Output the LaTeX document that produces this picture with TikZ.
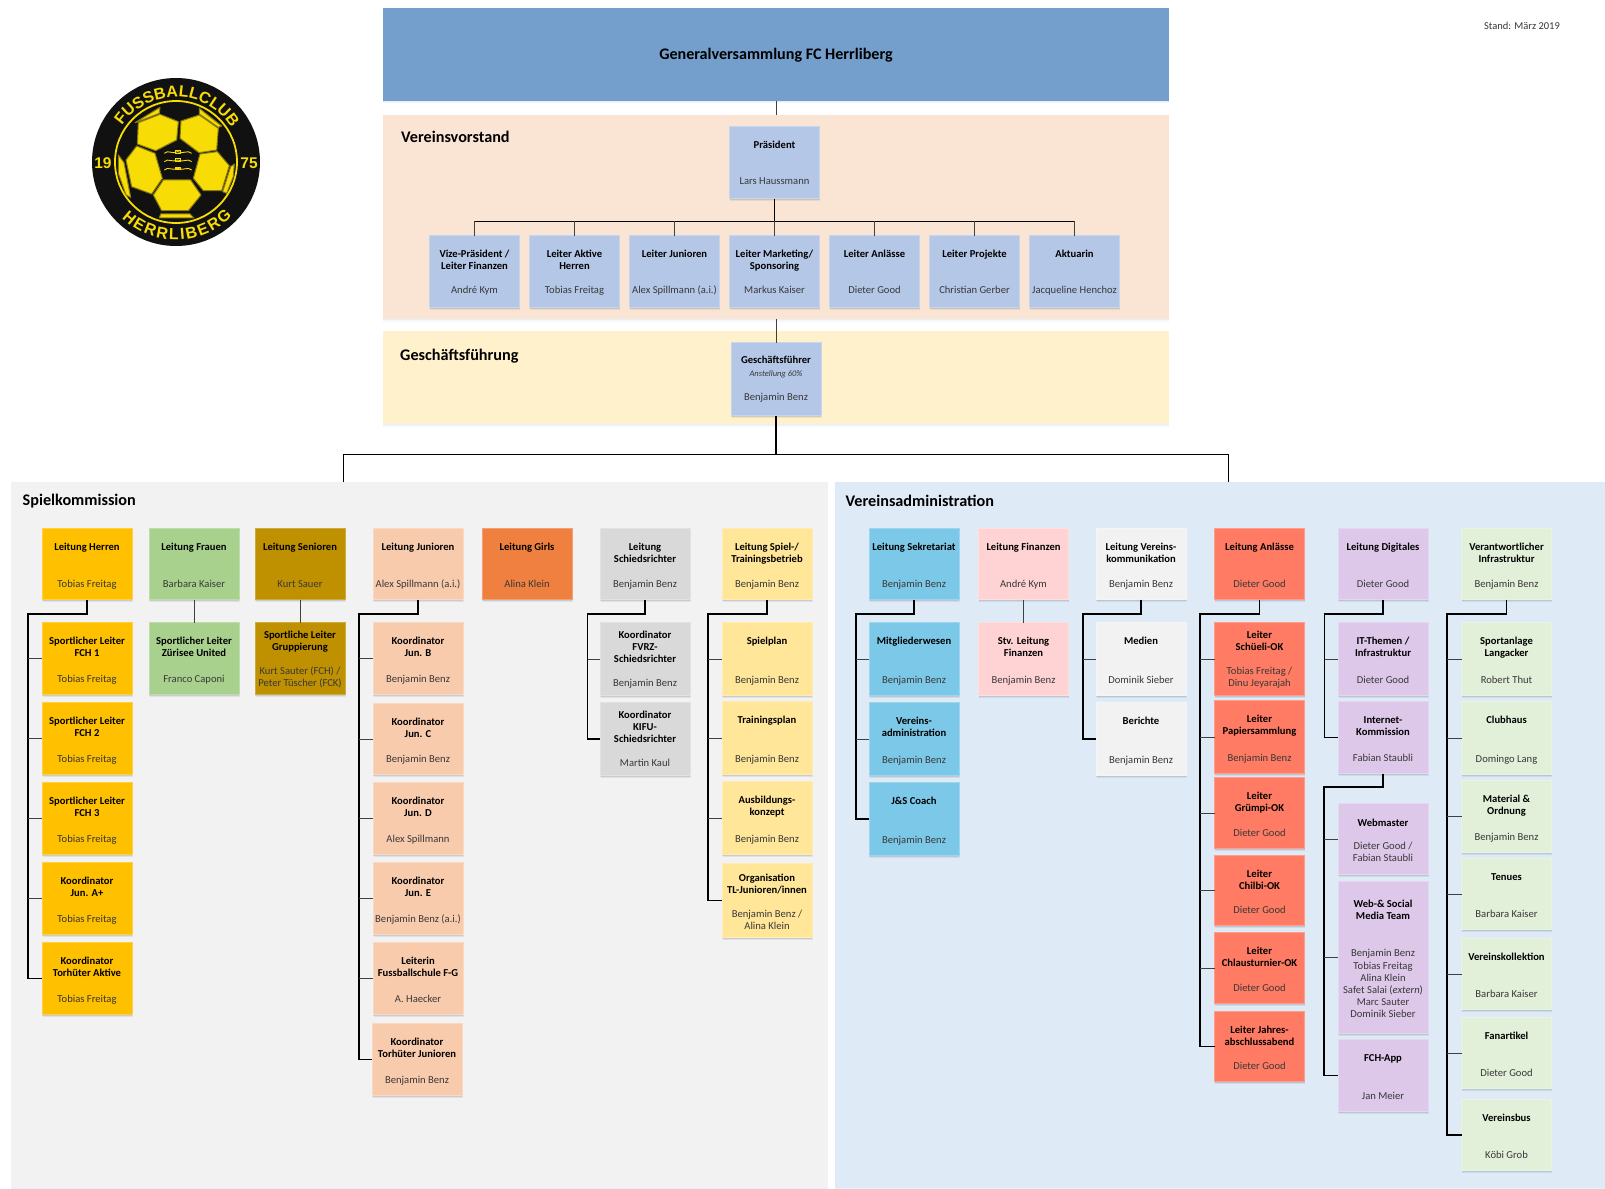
\documentclass[tikz,border=0pt]{standalone}
\usepackage{fontspec}
\setmainfont{Carlito}
\newfontfamily\logofont{Liberation Sans}
\usetikzlibrary{shadows,decorations.text,calc}
\definecolor{cTop}{HTML}{749FCC}\definecolor{cVor}{HTML}{FAE5D5}\definecolor{cGes}{HTML}{FFF1CC}
\definecolor{cBlue}{HTML}{B4C7E7}\definecolor{cGrey}{HTML}{F2F2F2}\definecolor{cAdm}{HTML}{DEEAF6}
\definecolor{cHer}{HTML}{FFC000}\definecolor{cFra}{HTML}{A9D18E}\definecolor{cSen}{HTML}{BF9000}
\definecolor{cJun}{HTML}{F8CBAD}\definecolor{cGir}{HTML}{F08040}\definecolor{cSch}{HTML}{D9D9D9}
\definecolor{cSpi}{HTML}{FFE699}\definecolor{cSek}{HTML}{7CC8E8}\definecolor{cFin}{HTML}{FFD3D3}
\definecolor{cKom}{HTML}{F2F2F2}\definecolor{cAnl}{HTML}{FF7B63}\definecolor{cDig}{HTML}{DDC8EA}
\definecolor{cInf}{HTML}{E2EFD9}\definecolor{cName}{HTML}{383838}
\definecolor{cLogoY}{HTML}{F7DD05}\definecolor{cLogoB}{HTML}{111111}\definecolor{cLogoL}{HTML}{8A7A10}
\tikzset{
  bandbox/.style={rectangle,inner sep=0pt,outer sep=0pt,draw=none,
    drop shadow={shadow xshift=0pt,shadow yshift=-2.5pt,opacity=.08,fill=cTop},
    drop shadow={shadow xshift=0pt,shadow yshift=-1.2pt,opacity=.10,fill=cTop}},
  orgbox/.style={rectangle,inner sep=0pt,outer sep=0pt,draw=#1!75!white,fill=#1,line width=.8pt,
    font=\fontsize{10.6}{12.2}\selectfont,
    drop shadow={shadow xshift=.9pt,shadow yshift=-2.6pt,opacity=.09,fill=black!60!cTop},
    drop shadow={shadow xshift=.4pt,shadow yshift=-1.3pt,opacity=.13,fill=black!60!cTop}},
  sectionlabel/.style={anchor=west,inner sep=0pt,font=\fontsize{16.2}{18}\selectfont\bfseries},
  thick link/.style={draw=black,line width=1.4pt},
  thin link/.style={draw=black!75,line width=1pt},
  ballface/.style={fill=cLogoY,draw=cLogoL,line width=1pt,line join=round},
}
\newcommand{\band}[6]{%
  \pgfmathsetmacro\bw{#4-#2}\pgfmathsetmacro\bh{#5-#3}%
  \pgfmathsetmacro\bx{(#2+#4)/2}\pgfmathsetmacro\by{(#3+#5)/2}%
  \node[bandbox,fill=#6,minimum width=\bw pt,minimum height=\bh pt] (#1) at (\bx,\by) {};}
% \ob[opts]{style colour}{id}{cx}{top}{bottom}{title}{name}
\newcommand{\ob}[8][]{\begingroup\def\tp{13.5}\def\bp{8.5}#1%
  \pgfmathsetmacro\bh{#6-#5-1}\pgfmathsetmacro\by{(#5+#6)/2}%
  \node[orgbox=#2] (#3) at (#4,\by) {\parbox[c][\bh pt][t]{90pt}{\centering
    \vspace*{\tp pt}{\bfseries\strut #7\strut\par}\vfill
    {\color{cName}\strut #8\strut\par}\vspace*{\bp pt}}};\endgroup}
% \sidetree{parent}{trunk x}{turn y}{last child}{other children}
\newcommand{\sidetree}[5]{%
  \coordinate (turn#1) at (#2,#3);
  \draw[thick link] (#1.south) |- (turn#1) |- (#4.west);
  \foreach \c in {#5}{\draw[thin link] (turn#1 |- \c.west) -- (\c.west);}}
\begin{document}
\begin{tikzpicture}[x=1pt,y=-1pt]
\useasboundingbox (0,0) rectangle (1605,1188);
\fill[white] (0,0) rectangle (1605,1188);
% bands
\band{gv}{383}{8}{1169}{101}{cTop}
\band{vv}{383}{115}{1169}{319}{cVor}
\band{gs}{383}{331}{1169}{424}{cGes}
\band{sp}{11}{482}{828}{1188}{cGrey}
\band{ad}{835}{482}{1605}{1188}{cAdm}
\node[anchor=center,inner sep=0pt,font=\fontsize{16.1}{18}\selectfont\bfseries] (gvt) at ([yshift=-.5pt]gv.center) {Generalversammlung FC Herrliberg};
\node[sectionlabel] (vvt) at (401,137) {Vereinsvorstand};
\node[sectionlabel] (gst) at (400,356.5) {Geschäftsführung};
\node[sectionlabel] (spt) at (22.5,501) {Spielkommission};
\node[sectionlabel] (adt) at (845.5,501) {Vereinsadministration};
\node[inner sep=0pt,font=\fontsize{10.5}{12}\selectfont,text=cName] (stand) at (1522,26) {Stand: März 2019};
% Vorstand
\ob[\def\tp{13}\def\bp{10}]{cBlue}{pr}{774.5}{126}{199}{Präsident}{Lars Haussmann}
\ob[\def\tp{13}\def\bp{10}]{cBlue}{v1}{474.5}{235}{308}{Vize-Präsident /\\Leiter Finanzen}{André Kym}
\ob[\def\tp{13}\def\bp{10}]{cBlue}{v2}{574.5}{235}{308}{Leiter Aktive\\Herren}{Tobias Freitag}
\ob[\def\tp{13}\def\bp{10}]{cBlue}{v3}{674.5}{235}{308}{Leiter Junioren}{Alex Spillmann (a.i.)}
\ob[\def\tp{13}\def\bp{10}]{cBlue}{v4}{774.5}{235}{308}{Leiter Marketing/\\Sponsoring}{Markus Kaiser}
\ob[\def\tp{13}\def\bp{10}]{cBlue}{v5}{874.5}{235}{308}{Leiter Anlässe}{Dieter Good}
\ob[\def\tp{13}\def\bp{10}]{cBlue}{v6}{974.5}{235}{308}{Leiter Projekte}{Christian Gerber}
\ob[\def\tp{13}\def\bp{10}]{cBlue}{v7}{1074.5}{235}{308}{Aktuarin}{Jacqueline Henchoz}
\ob[\def\tp{12}\def\bp{11}]{cBlue}{gf}{776}{342}{416}{Geschäftsführer\\[1pt]{\mdseries\itshape\fontsize{8.5}{11}\selectfont\color{cName}Anstellung 60\%}}{Benjamin Benz}
% Spielkommission
\ob{cHer}{h0}{87}{528}{600}{Leitung Herren}{Tobias Freitag}
\ob{cHer}{h1}{87}{622}{695}{Sportlicher Leiter\\FCH 1}{Tobias Freitag}
\ob{cHer}{h2}{87}{702}{775}{Sportlicher Leiter\\FCH 2}{Tobias Freitag}
\ob{cHer}{h3}{87}{782}{855}{Sportlicher Leiter\\FCH 3}{Tobias Freitag}
\ob{cHer}{h4}{87}{862}{935}{Koordinator\\Jun. A+}{Tobias Freitag}
\ob{cHer}{h5}{87}{942}{1015}{Koordinator\\Torhüter Aktive}{Tobias Freitag}
\ob{cFra}{f0}{194}{528}{600}{Leitung Frauen}{Barbara Kaiser}
\ob{cFra}{f1}{194}{622}{695}{Sportlicher Leiter\\Zürisee United}{Franco Caponi}
\ob{cSen}{s0}{300}{528}{600}{Leitung Senioren}{Kurt Sauer}
\ob[\def\tp{7}\def\bp{4}]{cSen}{s1}{300}{622}{695}{Sportliche Leiter\\Gruppierung}{Kurt Sauter (FCH) /\\Peter Tüscher (FCK)}
\ob{cJun}{j0}{418}{528}{600}{Leitung Junioren}{Alex Spillmann (a.i.)}
\ob{cJun}{j1}{418}{622}{695}{Koordinator\\Jun. B}{Benjamin Benz}
\ob{cJun}{j2}{418}{703}{775}{Koordinator\\Jun. C}{Benjamin Benz}
\ob{cJun}{j3}{418}{782}{855}{Koordinator\\Jun. D}{Alex Spillmann}
\ob{cJun}{j4}{418}{862}{935}{Koordinator\\Jun. E}{Benjamin Benz (a.i.)}
\ob{cJun}{j5}{418}{942}{1015}{Leiterin\\Fussballschule F-G}{A. Haecker}
\ob{cJun}{j6}{417}{1023}{1096}{Koordinator\\Torhüter Junioren}{Benjamin Benz}
\ob{cGir}{g0}{527}{528}{600}{Leitung Girls}{Alina Klein}
\ob{cSch}{r0}{645}{528}{600}{Leitung\\Schiedsrichter}{Benjamin Benz}
\ob[\def\tp{7}\def\bp{5}]{cSch}{r1}{645}{622}{696}{Koordinator\\FVRZ-\\Schiedsrichter}{Benjamin Benz}
\ob[\def\tp{7}\def\bp{5}]{cSch}{r2}{645}{702}{776}{Koordinator\\KIFU-\\Schiedsrichter}{Martin Kaul}
\ob{cSpi}{t0}{767}{528}{600}{Leitung Spiel-/\\Trainingsbetrieb}{Benjamin Benz}
\ob{cSpi}{t1}{767}{622}{696}{Spielplan}{Benjamin Benz}
\ob{cSpi}{t2}{767}{701}{775}{Trainingsplan}{Benjamin Benz}
\ob{cSpi}{t3}{767}{781}{855}{Ausbildungs-\\konzept}{Benjamin Benz}
\ob[\def\tp{9}\def\bp{4}]{cSpi}{t4}{767}{863}{938}{Organisation\\TL-Junioren/innen}{Benjamin Benz /\\Alina Klein}
% Vereinsadministration
\ob{cSek}{a0}{914}{528}{600}{Leitung Sekretariat}{Benjamin Benz}
\ob{cSek}{a1}{914}{622}{696}{Mitgliederwesen}{Benjamin Benz}
\ob{cSek}{a2}{914}{702}{776}{Vereins-\\administration}{Benjamin Benz}
\ob{cSek}{a3}{914}{782}{856}{J\&S Coach}{Benjamin Benz}
\ob{cFin}{n0}{1023.5}{528}{600}{Leitung Finanzen}{André Kym}
\ob{cFin}{n1}{1023.5}{622}{696}{Stv. Leitung\\Finanzen}{Benjamin Benz}
\ob{cKom}{k0}{1141}{528}{600}{Leitung Vereins-\\kommunikation}{Benjamin Benz}
\ob{cKom}{k1}{1141}{622}{696}{Medien}{Dominik Sieber}
\ob{cKom}{k2}{1141}{702}{776}{Berichte}{Benjamin Benz}
\ob{cAnl}{l0}{1259.5}{528}{600}{Leitung Anlässe}{Dieter Good}
\ob[\def\tp{7}\def\bp{5}]{cAnl}{l1}{1259.5}{622}{696}{Leiter\\Schüeli-OK}{Tobias Freitag /\\Dinu Jeyarajah}
\ob{cAnl}{l2}{1259.5}{700}{774}{Leiter\\Papiersammlung}{Benjamin Benz}
\ob{cAnl}{l3}{1259.5}{777}{849}{Leiter\\Grümpi-OK}{Dieter Good}
\ob{cAnl}{l4}{1259.5}{855}{926}{Leiter\\Chilbi-OK}{Dieter Good}
\ob{cAnl}{l5}{1259.5}{932}{1004}{Leiter\\Chlausturnier-OK}{Dieter Good}
\ob{cAnl}{l6}{1259.5}{1011}{1082}{Leiter Jahres-\\abschlussabend}{Dieter Good}
\ob{cDig}{d0}{1383}{528}{600}{Leitung Digitales}{Dieter Good}
\ob{cDig}{d1}{1383}{622}{696}{IT-Themen /\\Infrastruktur}{Dieter Good}
\ob{cDig}{d2}{1383}{701}{774}{Internet-\\Kommission}{Fabian Staubli}
\ob[\def\tp{14}\def\bp{9}]{cDig}{d3}{1383}{803}{875}{Webmaster}{Dieter Good /\\Fabian Staubli}
\ob[\def\tp{17}\def\bp{12}]{cDig}{d4}{1383}{881}{1034}{Web-\& Social\\Media Team}{Benjamin Benz\\Tobias Freitag\\Alina Klein\\Safet Salai ({\itshape extern})\\Marc Sauter\\Dominik Sieber}
\ob{cDig}{d5}{1383}{1039}{1112}{FCH-App}{Jan Meier}
\ob{cInf}{i0}{1506.5}{528}{600}{Verantwortlicher\\Infrastruktur}{Benjamin Benz}
\ob{cInf}{i1}{1506.5}{622}{696}{Sportanlage\\Langacker}{Robert Thut}
\ob{cInf}{i2}{1506.5}{701}{775}{Clubhaus}{Domingo Lang}
\ob{cInf}{i3}{1506.5}{780}{853}{Material \&\\Ordnung}{Benjamin Benz}
\ob{cInf}{i4}{1506.5}{858}{930}{Tenues}{Barbara Kaiser}
\ob{cInf}{i5}{1506.5}{938}{1010}{Vereinskollektion}{Barbara Kaiser}
\ob{cInf}{i6}{1506.5}{1017}{1089}{Fanartikel}{Dieter Good}
\ob{cInf}{i7}{1506.5}{1099}{1171}{Vereinsbus}{Köbi Grob}
% connectors: top
\draw[thin link] (gv.south) -- (vv.north);
\draw[thin link] (vv.south) -- (gf.north);
\coordinate (row) at (774.5,221);
\draw[thick link] (pr.south) -- (row);
\draw[thin link,draw=black] (row -| v1.north) -- (row -| v7.north);
\foreach \c in {v1,v2,v3,v4,v5,v6,v7}{\draw[thin link] (row -| \c.north) -- (\c.north);}
\coordinate (hub) at (776,454.5);
\coordinate (dropL) at (343,482);
\coordinate (dropR) at (1228,482);
\draw[thick link] (gf.south) -- (hub);
\draw[thin link,draw=black] (dropL) |- (hub) -| (dropR);
% connectors: side trees
\sidetree{h0}{28}{614}{h5}{h1,h2,h3,h4}
\sidetree{j0}{359}{614}{j6}{j1,j2,j3,j4,j5}
\sidetree{r0}{587.5}{614}{r2}{r1}
\sidetree{t0}{708}{614}{t4}{t1,t2,t3}
\sidetree{a0}{856}{614}{a3}{a1,a2}
\sidetree{k0}{1083}{614}{k2}{k1}
\sidetree{l0}{1200}{614}{l6}{l1,l2,l3,l4,l5}
\sidetree{d0}{1324.5}{614}{d2}{d1}
\sidetree{d2}{1324}{787}{d5}{d3,d4}
\sidetree{i0}{1447}{614}{i7}{i1,i2,i3,i4,i5,i6}
\draw[thin link] (f0.south) -- (f1.north);
\draw[thin link] (s0.south) -- (s1.north);
\draw[thin link] (n0.south) -- (n1.north);
% logo
\fill[cLogoB] (176,162) circle (84);
\draw[cLogoY,line width=1.8pt] (176,162) circle (61);
\begin{scope}[x=0.33333pt,y=-0.33333pt]
\path[ballface] (415,368)--(480,343)--(535,365)--(530,420)--(467,452)--(412,432)--cycle;
\path[ballface] (543,363)--(598,345)--(655,385)--(650,450)--(597,458)--(540,415)--cycle;
\path[ballface] (410,438)--(465,460)--(487,535)--(455,582)--(395,560)--(378,480)--cycle;
\path[ballface] (600,462)--(652,455)--(688,497)--(665,572)--(610,572)--(580,535)--cycle;
\path[ballface] (490,540)--(572,540)--(603,585)--(565,632)--(485,632)--(460,585)--cycle;
\path[ballface] (405,368)--(480,322)--(478,340)--(412,366)--cycle;
\path[ballface] (598,325)--(665,378)--(655,382)--(598,342)--cycle;
\path[ballface] (355,465)--(372,488)--(392,592)--(378,585)--(355,520)--cycle;
\path[ballface] (703,492)--(692,500)--(668,575)--(680,580)--(700,530)--cycle;
\path[ballface] (482,642)--(570,642)--(582,654)--(478,654)--cycle;
\foreach \wy in {458,483,508}{
  \draw[cLogoY,line width=.9pt] (493,\wy+2) .. controls (505,\wy-10) and (515,\wy+6) .. (533,\wy-3) .. controls (551,\wy+6) and (562,\wy-10) .. (575,\wy+2);
  \draw[cLogoY,line width=.5pt] (526,\wy-7) rectangle (541,\wy+1);
}
\end{scope}
\begin{scope}[shift={(176,162)},y=1pt]
\path[decorate,decoration={text along path,text align=fit to path,text color=cLogoY,
  text={|\logofont\bfseries\fontsize{16}{16}\selectfont|FUSSBALLCLUB}}]
  (146:65) arc (146:35:65);
\path[decorate,decoration={text along path,text align=fit to path,text color=cLogoY,
  text={|\logofont\bfseries\fontsize{16}{16}\selectfont|HERRLIBERG}}]
  (226:78) arc (226:316:78);
\node[text=cLogoY,inner sep=0pt,font=\logofont\bfseries\fontsize{15.5}{16}\selectfont] (y19) at (-73,-1) {19};
\node[text=cLogoY,inner sep=0pt,font=\logofont\bfseries\fontsize{15.5}{16}\selectfont] (y75) at (73,-1) {75};
\end{scope}
\end{tikzpicture}
\end{document}
